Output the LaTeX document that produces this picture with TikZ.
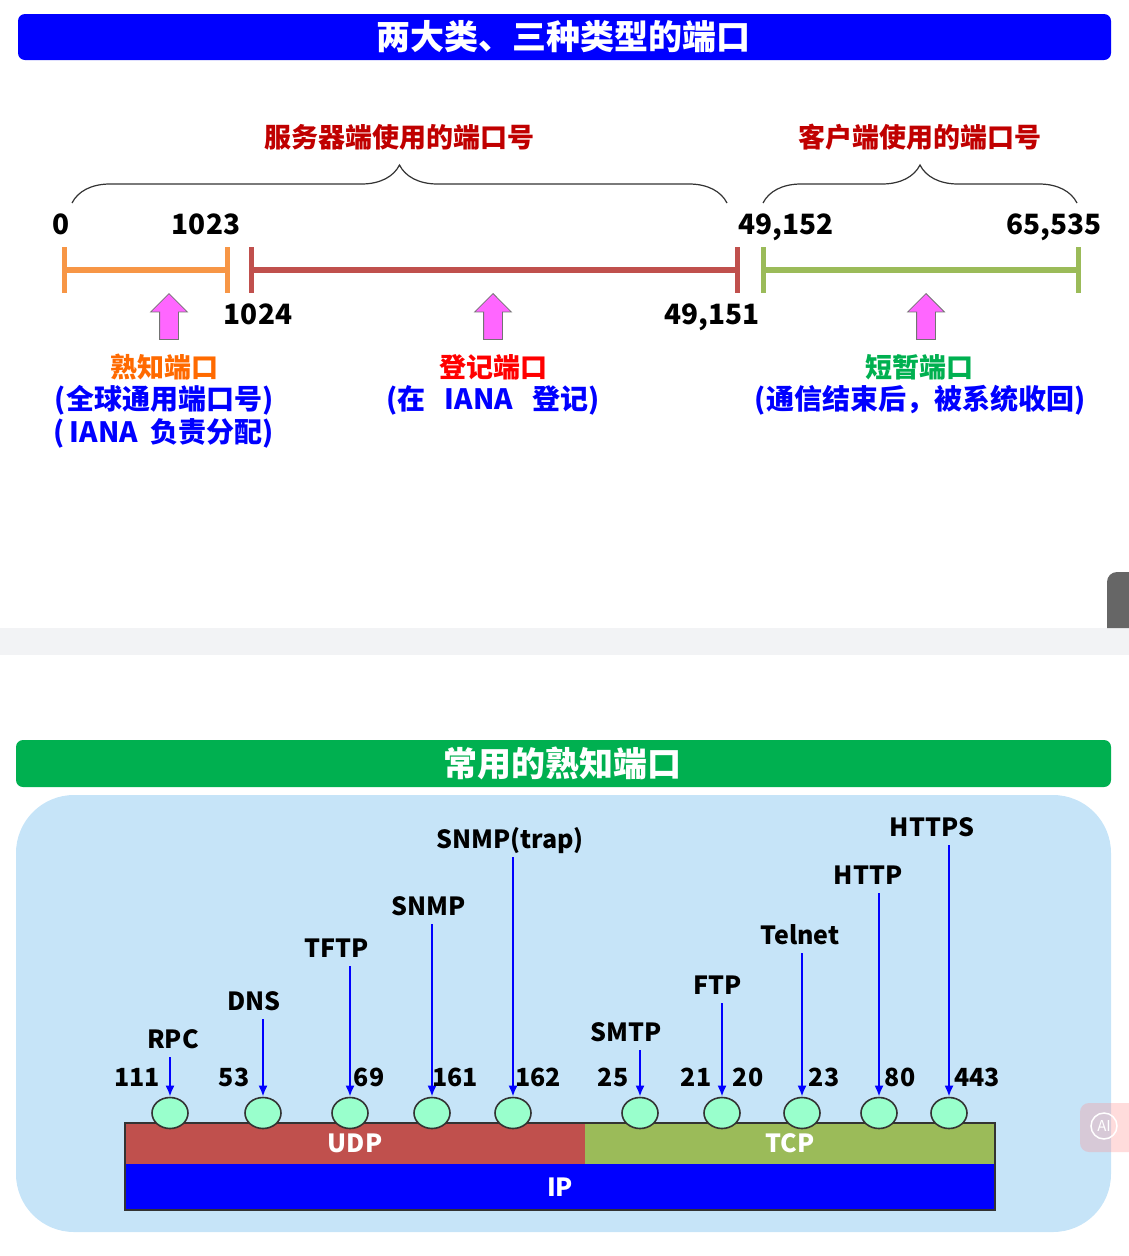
\documentclass[tikz,border=0pt]{standalone}
\usepackage{fontspec}
\setmainfont{Noto Sans CJK SC}
\usetikzlibrary{shapes.geometric,shapes.arrows,decorations.pathreplacing,arrows.meta}

\definecolor{titleblue}{HTML}{0000FF}
\definecolor{titlegreen}{HTML}{00B050}
\definecolor{darkred}{HTML}{C00000}
\definecolor{barorange}{HTML}{F79646}
\definecolor{barred}{HTML}{C0504D}
\definecolor{bargreen}{HTML}{9BBB59}
\definecolor{arrowpink}{HTML}{FF66FF}
\definecolor{knownorange}{HTML}{FF6A00}
\definecolor{panelblue}{HTML}{C6E4F8}
\definecolor{portgreen}{HTML}{99FFCC}
\definecolor{pagegray}{HTML}{F2F3F5}
\definecolor{tabgray}{HTML}{666666}

\begin{document}
\begin{tikzpicture}[x=1pt,y=-1pt,
   headtext/.style={text=white,font=\bfseries\fontsize{34pt}{36pt}\selectfont},
   rangetext/.style={text=darkred,font=\bfseries\fontsize{27pt}{30pt}\selectfont},
   numtext/.style={inner sep=0pt,anchor=base,font=\bfseries\fontsize{28pt}{30pt}\selectfont},
   kindtext/.style={inner sep=0pt,font=\bfseries\fontsize{27pt}{30pt}\selectfont},
   notetext/.style={inner sep=0pt,text=titleblue,font=\bfseries\fontsize{28pt}{30pt}\selectfont},
   up arrow/.style={single arrow,draw=black!55,fill=arrowpink,line width=0.8pt,rotate=90,
      anchor=tip,minimum height=46pt,inner sep=9pt,single arrow head extend=9pt},
   protolabel/.style={inner sep=0pt,text depth=6pt,anchor=base,font=\bfseries\fontsize{25pt}{28pt}\selectfont},
   portnum/.style={inner sep=0pt,anchor=base,font=\bfseries\fontsize{25pt}{28pt}\selectfont},
   portball/.style={ellipse,draw=black!80,fill=portgreen,line width=1.6pt,
      minimum width=36pt,minimum height=31pt,inner sep=0pt},
   layerbox/.style={inner sep=0pt,text=white,font=\bfseries\fontsize{25pt}{28pt}\selectfont}]

\tikzstyle {link} = [-{Latex[length=11pt,width=9pt]}, titleblue, line width=2.6pt, shorten <=3pt];
\tikzstyle {bracket} = [decorate, decoration={brace,amplitude=38pt}, draw=black!80, line width=1.2pt];

\useasboundingbox (0,0) rectangle (1129,1256);

% two classes, three kinds
\fill[titleblue,rounded corners=7pt] (18,14) rectangle (1111,60);
\node[headtext] (top) at (563,37) {两大类、三种类型的端口};

\node[rangetext] (server) at (399,137) {服务器端使用的端口号};
\node[rangetext] (client) at (920,137) {客户端使用的端口号};
\coordinate (sl) at (72,203);
\coordinate (sr) at (727,203);
\coordinate (cl) at (763,203);
\coordinate (cr) at (1077,203);
\draw[bracket] (sl) -- (sr);
\draw[bracket] (cl) -- (cr);

\node[numtext] (t0) at (61,234) {0};
\node[numtext] (t1023) at (206,234) {1023};
\node[numtext] (t1024) at (258,324) {1024};
\node[numtext] (t49151) at (712,324) {49,151};
\node[numtext] (t49152) at (786,234) {49,152};
\node[numtext] (t65535) at (1054,234) {65,535};

\draw[barorange,line width=6.5pt] (64,270) -- (227,270);
\draw[barorange,line width=5pt] (64,247) -- (64,293);
\draw[barorange,line width=5pt] (227,247) -- (227,293);
\draw[barred,line width=6.5pt] (251,270) -- (737,270);
\draw[barred,line width=5pt] (251,247) -- (251,293);
\draw[barred,line width=5pt] (737,247) -- (737,293);
\draw[bargreen,line width=6.5pt] (763,270) -- (1078,270);
\draw[bargreen,line width=5pt] (763,247) -- (763,293);
\draw[bargreen,line width=5pt] (1078,247) -- (1078,293);

\node[up arrow] (uwell) at (169,293) {};
\node[up arrow] (ureg) at (493,293) {};
\node[up arrow] (udyn) at (926,293) {};

\node[kindtext,text=knownorange] (well) at (164,367) {熟知端口};
\node[notetext] (wella) at (164,400) {(全球通用端口号)};
\node[notetext] (wellb) at (164,433) {(\,IANA\ \ 负责分配)};
\node[kindtext,text=red] (reg) at (493,367) {登记端口};
\node[notetext] (rega) at (493,400) {(在\ \ \ IANA\ \ \ 登记)};
\node[kindtext,text=titlegreen] (dyn) at (919,367) {短暂端口};
\node[notetext] (dyna) at (920,400) {(通信结束后，被系统收回)};

% page gap
\fill[pagegray] (0,628) rectangle (1129,655);
\fill[tabgray] (1107,628) -- (1107,582) arc[start angle=180,end angle=270,radius=10] -- (1129,572) -- (1129,628) -- cycle;

% common well-known ports
\fill[titlegreen,rounded corners=7pt] (16,740) rectangle (1111,787);
\node[headtext] (bottom) at (562,763) {常用的熟知端口};
\fill[panelblue,rounded corners=58pt] (16,795) rectangle (1111,1232);

\node[layerbox,fill=barred,minimum width=460pt,minimum height=41pt] (udp) at (355,1143.5) {UDP};
\node[layerbox,fill=bargreen,minimum width=410pt,minimum height=41pt] (tcp) at (790,1143.5) {TCP};
\node[layerbox,fill=titleblue,minimum width=870pt,minimum height=46pt] (ip) at (560,1187) {IP};
\draw[black!80,line width=1.5pt] (125,1123) rectangle (995,1210);

\node[portball] (prpc) at (170,1113) {};
\node[portball] (pdns) at (263,1113) {};
\node[portball] (ptftp) at (350,1113) {};
\node[portball] (psnmp) at (432,1113) {};
\node[portball] (ptrap) at (513,1113) {};
\node[portball] (psmtp) at (640,1113) {};
\node[portball] (pftp) at (722,1113) {};
\node[portball] (ptelnet) at (802,1113) {};
\node[portball] (phttp) at (879,1113) {};
\node[portball] (phttps) at (949,1113) {};

\node[protolabel] (lrpc) at (173,1048) {RPC};
\node[protolabel] (ldns) at (254,1010) {DNS};
\node[protolabel] (ltftp) at (337,957) {TFTP};
\node[protolabel] (lsnmp) at (429,915) {SNMP};
\node[protolabel] (ltrap) at (510,848) {SNMP(trap)};
\node[protolabel] (lsmtp) at (626,1041) {SMTP};
\node[protolabel] (lftp) at (718,994) {FTP};
\node[protolabel] (ltelnet) at (800,944) {Telnet};
\node[protolabel] (lhttp) at (868,884) {HTTP};
\node[protolabel] (lhttps) at (932,836) {HTTPS};

\path (lrpc.south -| prpc) edge [link] (prpc.north);
\path (ldns.south -| pdns) edge [link] (pdns.north);
\path (ltftp.south -| ptftp) edge [link] (ptftp.north);
\path (lsnmp.south -| psnmp) edge [link] (psnmp.north);
\path (ltrap.south -| ptrap) edge [link] (ptrap.north);
\path (lsmtp.south -| psmtp) edge [link] (psmtp.north);
\path (lftp.south -| pftp) edge [link] (pftp.north);
\path (ltelnet.south -| ptelnet) edge [link] (ptelnet.north);
\path (lhttp.south -| phttp) edge [link] (phttp.north);
\path (lhttps.south -| phttps) edge [link] (phttps.north);

\node[portnum] (n111) at (137,1086) {111};
\node[portnum] (n53) at (234,1086) {53};
\node[portnum] (n69) at (369,1086) {69};
\node[portnum] (n161) at (455,1086) {161};
\node[portnum] (n162) at (538,1086) {162};
\node[portnum] (n25) at (613,1086) {25};
\node[portnum] (n21) at (696,1086) {21};
\node[portnum] (n20) at (748,1086) {20};
\node[portnum] (n23) at (824,1086) {23};
\node[portnum] (n80) at (900,1086) {80};
\node[portnum] (n443) at (977,1086) {443};

% assistant badge
\fill[red!45,opacity=0.3,rounded corners=9pt] (1080,1103) rectangle (1145,1152);
\draw[white,line width=1.5pt] (1104,1126) circle (13);
\node[inner sep=0pt,text=white,font=\fontsize{15pt}{16pt}\selectfont] (ai) at (1104,1126) {AI};

\end{tikzpicture}
\end{document}
